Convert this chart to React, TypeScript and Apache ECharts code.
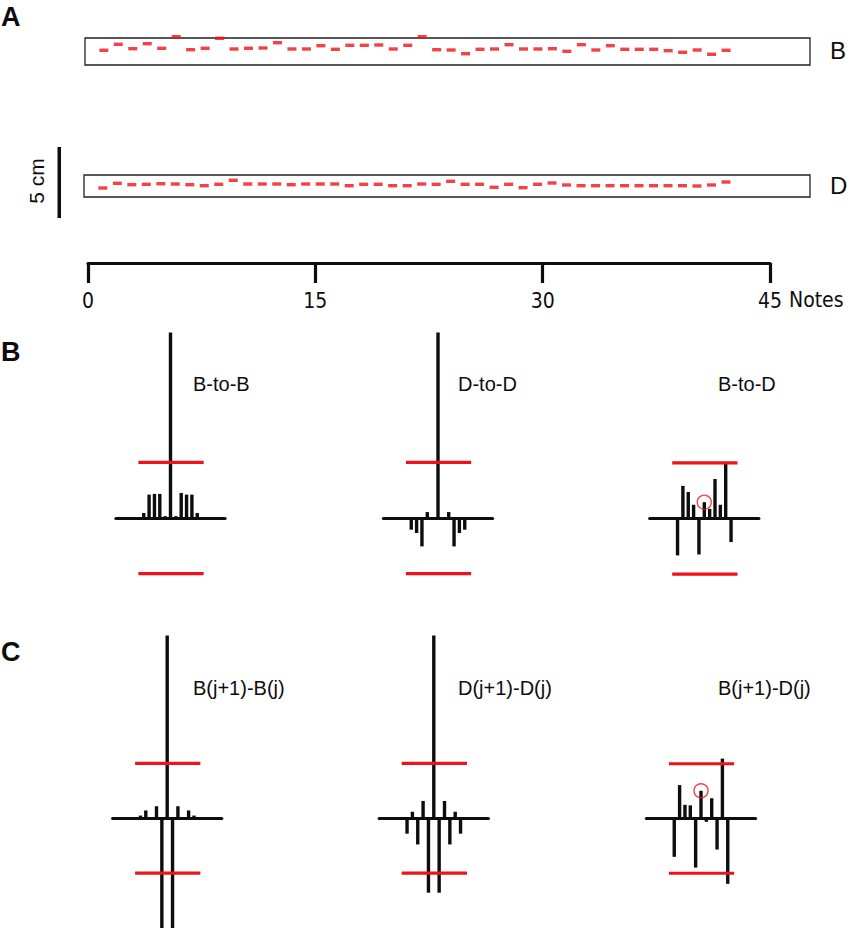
import React, { useEffect, useRef } from "react";
import * as echarts from "echarts";

// Panel A: vertical position of each note's dash inside its box (px-scale units above box floor)
const bPitch = [
  14.7, 20.7, 16.3, 21.3, 16.7, 28.3, 15.3, 16.7, 26.7, 16, 16.7, 17, 22.3, 16, 16, 19.3, 15.7,
  19.7, 19.7, 20, 16, 19.7, 28.3, 15.3, 15, 11.3, 15.7, 16, 20.3, 16, 16, 16.3, 13.7, 20.3, 15,
  19.3, 15.7, 15.7, 15.7, 14.3, 12.7, 15, 10.7, 14.7,
];
const dPitch = [
  9, 13.7, 12.3, 12.7, 13.3, 13, 12.3, 11.3, 12.7, 16.7, 13, 13, 13, 12.3, 13, 13, 13, 11.3, 12.7,
  12.7, 11.3, 11.3, 13, 12.7, 15.7, 12.7, 12.7, 9.7, 12.7, 9.3, 12.7, 14, 12, 11.3, 11.3, 11.3,
  11.3, 11.3, 11.3, 11.3, 11.3, 11, 12, 15,
];
const noteTicks = [0, 15, 30, 45];

// Panels B & C: correlation values by lag
const lags = [-5, -4, -3, -2, -1, 0, 1, 2, 3, 4, 5];
const bToB = [0.027, 0.126, 0.13, 0.13, 0.01, 1, 0.01, 0.135, 0.126, 0.126, 0.027];
const dToD = [-0.063, -0.081, -0.153, 0.032, 0, 1, 0, 0.032, -0.153, -0.081, -0.063];
const bToD = [-0.199, 0.176, 0.143, 0.074, -0.194, 0.088, 0.052, 0.213, 0.074, 0.294, -0.127];
const bDiffB = [0.015, 0.043, 0, 0.066, -0.6, 1, -0.6, 0.066, 0, 0.043, 0.015];
const dDiffD = [-0.084, 0.036, -0.143, 0.095, -0.407, 1, -0.407, 0.095, -0.143, 0.036, -0.084];
const bDiffD = [-0.21, 0.183, 0.075, 0.072, -0.269, 0.152, -0.018, 0.111, -0.17, 0.328, -0.358];
const ciLevel = 0.3;
const ciSpan = [-6, 6.2];
const lagSpan = [-10.2, 10.2];

const RED = "#f0121a";
const INK = "#0d0d0d";
const FONT = "'Liberation Sans', Arial, Helvetica, sans-serif";
const NARROW = "'Liberation Sans Narrow', 'Arial Narrow', 'DejaVu Sans Condensed', 'Liberation Sans', sans-serif";

export default function App() {
  const ref = useRef<HTMLDivElement>(null);
  useEffect(() => {
    const chart = echarts.init(ref.current!, null, { renderer: "svg" });
    const grid: any[] = [];
    const xAxis: any[] = [];
    const yAxis: any[] = [];
    const series: any[] = [];
    const graphic: any[] = [];

    const boxes = [
      { data: bPitch, left: 85, top: 38, width: 725, height: 27, name: "B" },
      { data: dPitch, left: 84, top: 175, width: 726, height: 22, name: "D" },
    ];
    boxes.forEach((b) => {
      const gi = grid.length;
      grid.push({
        left: b.left, top: b.top, width: b.width, height: b.height,
        show: true, borderColor: "#222", borderWidth: 1.3, backgroundColor: "transparent",
      });
      xAxis.push({ gridIndex: gi, type: "value", min: -0.3, max: 49.8, show: false });
      yAxis.push({ gridIndex: gi, type: "value", min: 0, max: b.height, show: false });
      series.push({
        type: "scatter", xAxisIndex: gi, yAxisIndex: gi, symbol: "rect", symbolSize: [9, 3.4],
        clip: false, silent: true, itemStyle: { color: RED },
        data: b.data.map((v, k) => [k + 1, v]),
      });
      graphic.push({
        type: "text", left: 830, top: b.top + b.height / 2 - 13,
        style: { text: b.name, fontSize: 24, fontFamily: FONT, fill: INK },
      });
    });

    // note axis
    {
      const gi = grid.length;
      grid.push({ left: 88, top: 262, width: 682, height: 1 });
      xAxis.push({
        gridIndex: gi, type: "value", min: 0, max: 45, interval: 15,
        axisLine: { show: true, onZero: false, lineStyle: { color: INK, width: 3.2 } },
        axisTick: { show: true, length: 20, lineStyle: { color: INK, width: 3.2 } },
        axisLabel: {
          margin: 27, fontSize: 21, fontFamily: NARROW, color: INK,
          formatter: (v: number) => (noteTicks.includes(v) ? String(v) : ""),
        },
        splitLine: { show: false },
      });
      yAxis.push({ gridIndex: gi, type: "value", show: false });
      graphic.push({
        type: "text", left: 789, top: 289,
        style: { text: "Notes", fontSize: 21, fontFamily: NARROW, fill: INK },
      });
    }

    const panels = [
      { data: bToB, cx: 170.5, base: 518, label: "B-to-B", circle: false },
      { data: dToD, cx: 438, base: 518, label: "D-to-D", circle: false },
      { data: bToD, cx: 704.3, base: 518.5, label: "B-to-D", circle: true },
      { data: bDiffB, cx: 167.2, base: 821, label: "B(j+1)-B(j)", circle: false },
      { data: dDiffD, cx: 433.8, base: 821, label: "D(j+1)-D(j)", circle: false },
      { data: bDiffD, cx: 701, base: 821.5, label: "B(j+1)-D(j)", circle: true },
    ];
    const pxPerLag = 5.35;
    const pxPerUnit = 185.5;
    panels.forEach((p, idx) => {
      const gi = grid.length;
      const w = (lagSpan[1] - lagSpan[0]) * pxPerLag;
      grid.push({
        left: p.cx + lagSpan[0] * pxPerLag, top: p.base - pxPerUnit, width: w, height: pxPerUnit * 1.6,
      });
      xAxis.push({
        gridIndex: gi, type: "value", min: lagSpan[0], max: lagSpan[1],
        axisLine: { show: true, onZero: true, lineStyle: { color: INK, width: 3.2 } },
        axisTick: { show: false }, axisLabel: { show: false }, splitLine: { show: false },
      });
      yAxis.push({ gridIndex: gi, type: "value", min: -0.6, max: 1, show: false, splitLine: { show: false } });
      series.push({
        type: "bar", xAxisIndex: gi, yAxisIndex: gi, barWidth: 3.4, silent: true,
        itemStyle: { color: INK }, data: lags.map((l, k) => [l, p.data[k]]),
      });
      [ciLevel, -ciLevel].forEach((c) => {
        series.push({
          type: "line", xAxisIndex: gi, yAxisIndex: gi, symbol: "none", silent: true,
          lineStyle: { color: RED, width: 3.2 }, data: [[ciSpan[0], c], [ciSpan[1], c]],
        });
      });
      if (p.circle) {
        const k0 = lags.indexOf(0);
        series.push({
          type: "scatter", xAxisIndex: gi, yAxisIndex: gi, symbol: "circle", symbolSize: 14,
          silent: true, z: 5,
          itemStyle: { color: "rgba(0,0,0,0)", borderColor: RED, borderWidth: 1.4 },
          data: [[0, p.data[k0]]],
        });
      }
      const row = idx < 3 ? 0 : 1;
      const lx = [193, 458, 718][idx % 3];
      graphic.push({
        type: "text", left: lx, top: row === 0 ? 374 : 678,
        style: { text: p.label, fontSize: 20, fontFamily: FONT, fill: INK },
      });
    });

    // panel letters
    [["A", 3], ["B", 338], ["C", 638]].forEach(([t, y]) => {
      graphic.push({
        type: "text", left: 1, top: y as number,
        style: { text: t as string, fontSize: 27, fontWeight: "bold", fontFamily: FONT, fill: INK },
      });
    });
    // 5 cm scale bar
    graphic.push({ type: "rect", shape: { x: 57.5, y: 147, width: 3.5, height: 71 }, style: { fill: INK } });
    graphic.push({
      type: "text", x: 36, y: 181, rotation: Math.PI / 2,
      style: { text: "5 cm", fontSize: 21, fontFamily: FONT, fill: INK, align: "center", verticalAlign: "middle" },
    });

    chart.setOption({ animation: false, backgroundColor: "#fff", grid, xAxis, yAxis, series, graphic });
    return () => chart.dispose();
  }, []);
  return <div ref={ref} style={{ position: "absolute", left: 0, top: 0, width: 850, height: 928 }} />;
}
